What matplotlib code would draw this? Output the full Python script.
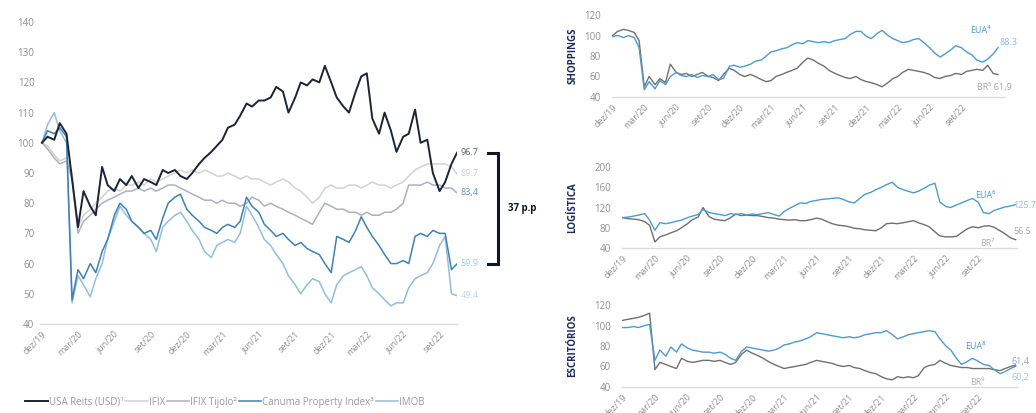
import numpy as np
import pandas as pd
import matplotlib
matplotlib.use('Agg')
import matplotlib.pyplot as plt
import matplotlib.transforms as mtransforms

plt.rcParams['font.family'] = ['Open Sans', 'DejaVu Sans']

# ---- data (semi-monthly readings, base 100 = dez/19) ----
dates_main = pd.date_range('2019-12-01', '2022-10-15', freq='SMS')
dates_sect = pd.date_range('2019-12-01', '2022-12-15', freq='SMS')

usa_reits = [100, 102, 101, 106.5, 103, 88, 72, 84, 79, 76,
             92, 86, 84, 88, 86, 89, 85, 88, 87, 86,
             91, 90, 91, 89, 88, 90, 93, 95, 97, 99,
             101, 105, 106, 109, 113, 112, 114, 114, 115, 118.5,
             117, 110, 115, 120, 119, 121, 120, 125.5, 120, 115,
             112, 110, 117, 122, 123, 108, 103, 110, 104, 97,
             102, 103, 111, 100, 101, 90, 84, 87, 93, 96.7]
ifix = [100, 99, 96, 94, 95, 90, 72, 76, 78, 80,
        82, 84, 85, 84, 86, 86, 87, 86, 88, 87,
        88, 89, 90, 91, 90, 91, 90, 91, 90, 89,
        89, 90, 89, 88, 89, 88, 88, 87, 86, 87,
        88, 87, 85, 84, 82, 80, 82, 85, 86, 85,
        85, 86, 86, 85, 86, 87, 86, 86, 85, 86,
        87, 89, 91, 92, 93, 93, 93, 93, 92, 89.7]
ifix_tijolo = [100, 98, 95, 93, 94, 88, 70, 74, 76, 78,
               80, 81, 82, 83, 84, 84, 85, 84, 85, 84,
               85, 86, 86, 85, 84, 83, 82, 81, 81, 80,
               81, 80, 80, 79, 80, 82, 81, 79, 80, 79,
               78, 77, 76, 75, 74, 73, 77, 80, 79, 78,
               78, 77, 77, 76, 77, 76, 76, 77, 77, 78,
               80, 86, 86, 86, 87, 86, 86, 85, 85, 83.4]
canuma = [100, 104, 103, 105, 102, 48, 58, 55, 60, 57,
          64, 68, 76, 80, 78, 74, 72, 70, 71, 68,
          75, 80, 82, 83, 78, 76, 74, 72, 71, 70,
          72, 73, 72, 74, 82, 79, 77, 73, 71, 69,
          70, 68, 66, 67, 65, 64, 63, 60, 57, 69,
          68, 67, 71, 75.5, 72, 69, 66, 63, 60, 60,
          61, 60, 69, 70, 69, 71, 70, 70, 58, 59.9]
imob = [100, 106, 110, 104, 100, 47, 56, 53, 49, 55,
        60, 68, 74, 79, 76, 74, 72, 70, 68, 64,
        72, 74, 76, 77, 74, 71, 68, 64, 62, 66,
        67, 68, 67, 70, 79, 76, 72, 68, 66, 63,
        60, 56, 53, 50, 53, 55, 54, 50, 47, 53,
        56, 57, 58, 59, 56, 52, 50, 48, 46, 47,
        47, 52, 55, 56, 57, 60, 66, 69, 50, 49.4]

main_names = ['USA Reits (USD)¹', 'IFIX', 'IFIX Tijolo²', 'Canuma Property Index³', 'IMOB']
main_end_labels = ['96.7', '89.7', '83,4', '59.9', '49.4']

shop_eua = [99, 100, 98, 100, 98, 88, 47, 55, 48, 56,
            52, 60, 64, 61, 60, 62, 59, 61, 60, 62,
            57, 58, 70, 71, 69, 70, 72, 75, 76, 80,
            84, 85, 87, 88, 91, 93, 92, 95, 94, 93,
            94, 93, 95, 96, 97, 101, 104, 104, 99, 97,
            102, 105, 100, 97, 95, 93, 94, 96, 97, 93,
            88, 83, 79, 82, 86, 90, 88, 84, 81, 76,
            74, 77, 82, 88.3]
shop_br = [100, 104, 106, 105, 103, 95, 50, 60, 52, 58,
           54, 72, 64, 62, 63, 60, 62, 64, 60, 59,
           56, 62, 68, 66, 62, 60, 62, 60, 57, 55,
           56, 60, 62, 64, 66, 68, 74, 78, 76, 73,
           70, 66, 63, 61, 59, 58, 60, 57, 55, 54,
           52, 50, 54, 58, 60, 64, 67, 66, 65, 64,
           62, 59, 58, 60, 61, 63, 62, 65, 66, 67,
           66, 71, 63, 61.9]
log_eua = [100, 101, 103, 105, 108, 95, 75, 90, 88, 90,
           93, 95, 100, 103, 106, 116, 110, 108, 106, 104,
           108, 106, 108, 105, 107, 106, 108, 110, 106, 103,
           112, 118, 124, 129, 128, 132, 134, 136, 137, 138,
           139, 136, 131, 129, 138, 146, 150, 155, 160, 165,
           170, 160, 155, 152, 149, 152, 158, 164, 168, 131,
           122, 120, 125, 129, 134, 138, 130, 110, 108, 114,
           118, 121, 123, 125.7]
log_br = [100, 98, 97, 96, 92, 85, 52, 62, 66, 70,
          74, 80, 88, 96, 101, 120, 102, 97, 95, 94,
          100, 107, 104, 105, 104, 104, 102, 100, 99, 97,
          96, 95, 96, 94, 94, 96, 99, 97, 92, 88,
          85, 84, 82, 79, 78, 76, 75, 74, 80, 88,
          89, 88, 90, 92, 94, 90, 86, 82, 72, 64,
          62, 62, 63, 70, 78, 82, 80, 83, 84, 81,
          74, 68, 60, 56.5]
off_eua = [98, 98, 99, 98, 100, 101, 66, 76, 70, 79,
           74, 82, 78, 76, 75, 74, 74, 73, 74, 72,
           68, 66, 75, 79, 78, 77, 76, 75, 76, 78,
           81, 82, 84, 85, 87, 89, 93, 92, 91, 90,
           89, 88, 89, 88, 89, 91, 92, 93, 93, 95,
           91, 87, 89, 91, 92, 93, 94, 95, 94, 87,
           80, 76, 68, 62, 65, 68, 65, 62, 61, 57,
           53, 55, 58, 60.2]
off_br = [105, 106, 107, 108, 110, 112, 57, 64, 62, 60,
          58, 68, 65, 64, 65, 66, 66, 65, 66, 64,
          62, 64, 72, 76, 73, 71, 68, 65, 62, 60,
          58, 59, 60, 61, 62, 64, 66, 65, 64, 63,
          61, 60, 61, 59, 58, 56, 54, 53, 50, 48,
          47, 50, 49, 50, 49, 51, 59, 61, 62, 66,
          63, 61, 60, 59, 59, 58, 58, 58, 58, 57,
          56, 58, 60, 61.4]

tick_dates = pd.to_datetime(['2019-12-01', '2020-03-01', '2020-06-01', '2020-09-01',
                             '2020-12-01', '2021-03-01', '2021-06-01', '2021-09-01',
                             '2021-12-01', '2022-03-01', '2022-06-01', '2022-09-01'])
tick_labels = ['dez/19', 'mar/20', 'jun/20', 'set/20', 'dez/20', 'mar/21',
               'jun/21', 'set/21', 'dez/21', 'mar/22', 'jun/22', 'set/22']

# ---- styling ----
navy = '#1b2434'
c_main = [navy, '#d2d2d2', '#aeb0bf', '#3f80b6', '#92bedd']
c_lbl = ['#5a5f6b', '#cfcfcf', '#5d9bb8', '#9dc4de', '#bcd6ea']
c_eua = '#4b9bd1'
c_br = '#707070'
tick_col = '#8f8f8f'

W, H = 1036, 413
fig = plt.figure(figsize=(W / 100, H / 100), dpi=100)


def style(ax, yticks, xlim):
    for s in ['top', 'right', 'left']:
        ax.spines[s].set_visible(False)
    ax.spines['bottom'].set_color('#dcdcdc')
    ax.spines['bottom'].set_linewidth(1.0)
    ax.tick_params(length=0, colors=tick_col, labelsize=7, pad=4)
    ax.set_yticks(yticks)
    ax.set_ylim(yticks[0], yticks[-1])
    ax.set_xlim(xlim)
    ax.set_xticks(tick_dates)
    ax.set_xticklabels(tick_labels, rotation=45, ha='right', rotation_mode='anchor', fontsize=6.5)


# main chart
ax = fig.add_axes([40 / W, 1 - 324 / H, 417 / W, 302 / H])
series = [usa_reits, ifix, ifix_tijolo, canuma, imob]
order = [1, 2, 4, 3, 0]
lines = {}
for i in order:
    lw = 1.4 if i == 0 else 1.1
    lines[i], = ax.plot(dates_main, series[i], color=c_main[i], lw=lw, label=main_names[i])
style(ax, np.arange(40, 141, 10),
      (dates_main[0] - pd.Timedelta(days=5), dates_main[-1]))

trans = mtransforms.blended_transform_factory(ax.transAxes, ax.transData)
for i in range(5):
    ax.text(1.008, series[i][-1], main_end_labels[i], transform=trans,
            va='center', ha='left', fontsize=6.5, color=c_lbl[i])

top, bot = usa_reits[-1], canuma[-1]
x0, x1 = (488 - 40) / 417, (498 - 40) / 417
ax.plot([x0, x1, x1, x0], [top, top, bot, bot], transform=trans,
        color='#0f1626', lw=2.2, clip_on=False, solid_joinstyle='miter')
ax.text(1.122, (top + bot) / 2, f'{round(top - bot):.0f} p.p', transform=trans,
        va='center', ha='left', fontsize=7, fontweight='bold', color='#0f1626')

fig.legend([lines[i] for i in range(5)], main_names, loc='center left',
           bbox_to_anchor=(0.016, 0.026), ncol=5, frameon=False, fontsize=7,
           handlelength=2.3, handletextpad=0.1, columnspacing=0.2,
           labelcolor='#9a9a9a')

# sector panels
panels = [
    ([612, 97, 393, 82], shop_eua, shop_br, [40, 60, 80, 100, 120], 'SHOPPINGS',
     [('EUA⁴', 0.911, 0.817, c_eua), ('88.3', 0.987, 0.67, '#8bb9dd'),
      ('BR⁵ 61,9', 0.929, 0.11, '#a5a5a5')], 20),
    ([622, 248, 395, 81], log_eua, log_br, [40, 80, 120, 160, 200], 'LOGÍSTICA',
     [('EUA⁶', 0.894, 0.654, c_eua), ('125.7', 0.99, 0.53, '#9dbfd6'),
      ('56.5', 0.99, 0.2, '#a5a5a5'), ('BR⁷', 0.906, 0.06, '#b0b0b0')], 4),
    ([622, 387, 395, 82], off_eua, off_br, [40, 60, 80, 100, 120], 'ESCRITÓRIOS',
     [('EUA⁸', 0.868, 0.488, c_eua), ('61,4', 0.987, 0.305, '#a5a5a5'),
      ('60,2', 0.987, 0.11, '#9dc4de'), ('BR⁹', 0.881, 0.05, '#b0b0b0')], 4),
]
for (l, b, w, h), eua, br, yt, name, labels, pad_days in panels:
    a = fig.add_axes([l / W, 1 - b / H, w / W, h / H])
    a.plot(dates_sect, br, color=c_br, lw=1.0)
    a.plot(dates_sect, eua, color=c_eua, lw=1.0)
    style(a, yt, (dates_sect[0] - pd.Timedelta(days=2), dates_sect[-1] + pd.Timedelta(days=pad_days)))
    a.tick_params(axis='y', pad=8)
    for txt, tx, ty, col in labels:
        a.text(tx, ty, txt, transform=a.transAxes, fontsize=6.5, color=col,
               va='center', ha='left')
    fig.text(573 / W, 1 - (b - h / 2) / H, name, rotation=90, ha='center', va='center',
             fontsize=7, fontweight='bold', color='#1d2a5a')

fig.savefig('out.png', dpi=100)
